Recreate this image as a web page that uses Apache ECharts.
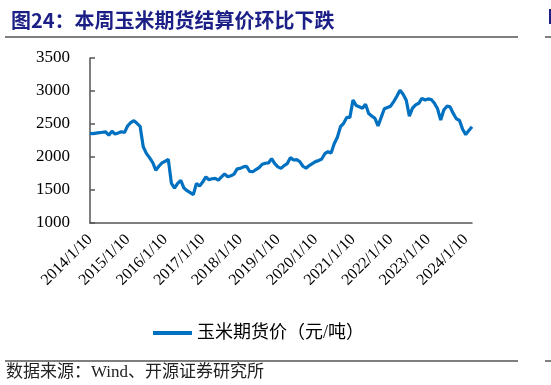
<!DOCTYPE html>
<html>
<head>
<meta charset="utf-8">
<script src="https://cdn.jsdelivr.net/npm/echarts@6/dist/echarts.min.js"></script>
<style>
html,body{margin:0;padding:0;background:#fff;}
#c{width:551px;height:385px;}
</style>
</head>
<body>
<div id="c"></div>
<script>
// Monthly settlement prices (元/吨), one array per year
const p2014 = [2359, 2355, 2362, 2368, 2375, 2380, 2330, 2390, 2348, 2365, 2383, 2370];
const p2015 = [2470, 2520, 2550, 2510, 2465, 2156, 2055, 1990, 1920, 1800, 1860, 1910];
const p2016 = [1935, 1965, 1600, 1530, 1600, 1645, 1530, 1490, 1460, 1430, 1600, 1560];
const p2017 = [1620, 1700, 1655, 1670, 1675, 1650, 1700, 1745, 1700, 1715, 1740, 1820];
const p2018 = [1828, 1850, 1860, 1780, 1777, 1810, 1840, 1890, 1905, 1910, 1975, 1900];
const p2019 = [1850, 1828, 1870, 1900, 1990, 1955, 1960, 1930, 1860, 1830, 1870, 1900];
const p2020 = [1930, 1945, 1970, 2050, 2080, 2060, 2200, 2300, 2459, 2510, 2600, 2600];
const p2021 = [2864, 2780, 2760, 2740, 2800, 2660, 2620, 2586, 2470, 2600, 2730, 2750];
const p2022 = [2770, 2840, 2920, 3010, 2950, 2860, 2620, 2740, 2790, 2814, 2889, 2864];
const p2023 = [2880, 2870, 2814, 2730, 2560, 2712, 2770, 2760, 2660, 2580, 2555, 2420];
const p2024 = [2340, 2400, 2459];

const seriesName = '玉米期货价（元/吨）';
const titleText = '图24：本周玉米期货结算价环比下跌';
const sourceText = '数据来源：Wind、开源证券研究所';
const yTicks = [1000, 1500, 2000, 2500, 3000, 3500];

const prices = [].concat(p2014, p2015, p2016, p2017, p2018, p2019, p2020, p2021, p2022, p2023, p2024);
const startYear = 2014;
const categories = prices.map((_, i) => (startYear + Math.floor(i / 12)) + '/' + (i % 12 + 1) + '/10');

const chart = echarts.init(document.getElementById('c'), null, {renderer: 'canvas'});
const serif = '"Liberation Serif", "Noto Sans CJK SC", serif';

chart.setOption({
  animation: false,
  backgroundColor: '#ffffff',
  title: {
    text: titleText,
    left: 6,
    top: 5,
    textStyle: {
      color: '#1B1F86',
      fontSize: 20,
      fontWeight: 'bold',
      fontFamily: '"Noto Sans CJK SC", sans-serif'
    }
  },
  legend: {
    data: [seriesName],
    left: 148,
    top: 319,
    icon: 'rect',
    itemWidth: 39,
    itemHeight: 4,
    textStyle: {
      color: '#000',
      fontSize: 18,
      fontFamily: serif
    }
  },
  grid: {
    left: 90,
    right: 79,
    top: 58,
    bottom: 162,
    containLabel: false
  },
  xAxis: {
    type: 'category',
    data: categories,
    boundaryGap: false,
    axisLine: {show: true, lineStyle: {color: '#555', width: 1.5}},
    axisTick: {show: false},
    splitLine: {show: false},
    axisLabel: {
      rotate: 45,
      margin: 14,
      color: '#000',
      fontSize: 16,
      fontFamily: serif,
      interval: function (idx, val) { return /\/1\/10$/.test(val); }
    }
  },
  yAxis: {
    type: 'value',
    min: yTicks[0],
    max: yTicks[yTicks.length - 1],
    interval: 500,
    axisLine: {show: true, lineStyle: {color: '#555', width: 1.5}},
    axisTick: {show: true, inside: true, length: 5, lineStyle: {color: '#555', width: 1.5}},
    splitLine: {show: false},
    axisLabel: {
      margin: 20,
      color: '#000',
      fontSize: 17,
      fontFamily: serif,
      formatter: function (v) { return String(v); }
    }
  },
  series: [{
    name: seriesName,
    type: 'line',
    data: prices,
    showSymbol: false,
    symbol: 'none',
    lineStyle: {color: '#0070C0', width: 3.2},
    itemStyle: {color: '#0070C0'}
  }],
  graphic: [
    {type: 'line', shape: {x1: 5, y1: 37, x2: 518, y2: 37}, style: {stroke: '#555', lineWidth: 1.5}},
    {type: 'line', shape: {x1: 545, y1: 37, x2: 551, y2: 37}, style: {stroke: '#555', lineWidth: 1.5}},
    {type: 'rect', shape: {x: 549, y: 9, width: 2, height: 15}, style: {fill: '#1B1F86'}},
    {type: 'line', shape: {x1: 5, y1: 361, x2: 518, y2: 361}, style: {stroke: '#555', lineWidth: 1.5}},
    {type: 'line', shape: {x1: 545, y1: 361, x2: 551, y2: 361}, style: {stroke: '#555', lineWidth: 1.5}},
    {
      type: 'text',
      left: 6,
      top: 364,
      style: {
        text: sourceText,
        fill: '#222',
        fontSize: 17,
        fontFamily: serif
      }
    }
  ]
});
</script>
</body>
</html>
